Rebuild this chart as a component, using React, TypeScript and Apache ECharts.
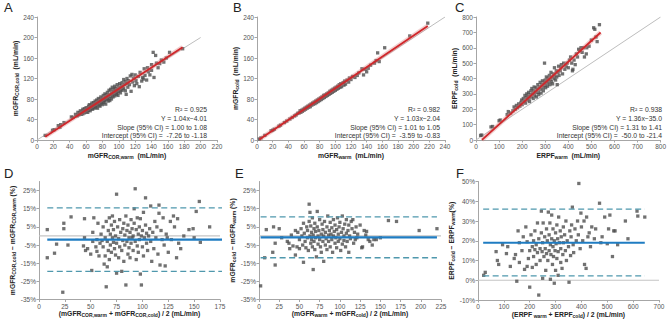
import { useEffect, useRef } from 'react';
import * as echarts from 'echarts';

type Pt = [number, number];

// ---------- A: mGFR(COR) warm vs cold ----------
const corWarmCold: Pt[] = [
  [10, 9], [19, 19], [21, 20], [26, 28], [28, 25], [29, 30], [33, 34], [42, 45], [44, 44], [47, 50], [49, 47],
  [50, 54], [51, 49], [52, 53], [53, 57], [54, 50], [55, 55], [56, 60], [56, 51], [57, 57], [58, 53],
  [58, 61], [59, 58], [60, 55], [60, 63], [61, 59], [62, 54], [62, 62], [63, 66], [63, 58], [64, 61],
  [64, 69], [65, 57], [65, 64], [66, 67], [66, 61], [67, 72], [67, 63], [68, 60], [68, 68], [69, 65],
  [69, 73], [70, 62], [70, 70], [71, 76], [71, 67], [72, 64], [72, 72], [73, 78], [73, 68], [74, 71],
  [74, 62], [75, 75], [75, 81], [76, 68], [76, 73], [77, 79], [77, 66], [78, 75], [78, 84], [79, 72],
  [79, 78], [80, 69], [80, 81], [81, 76], [81, 87], [82, 73], [82, 80], [83, 90], [83, 77], [84, 70],
  [84, 83], [85, 88], [85, 79], [86, 93], [86, 82], [87, 76], [87, 86], [88, 97], [88, 81], [89, 89],
  [89, 77], [90, 85], [90, 99], [91, 92], [91, 80], [92, 88], [92, 103], [93, 95], [93, 84], [94, 91],
  [94, 99], [95, 86], [95, 105], [96, 94], [96, 101], [97, 89], [97, 96], [98, 108], [98, 92], [99, 99],
  [99, 87], [100, 103], [100, 95], [101, 110], [102, 98], [102, 92], [103, 106], [104, 112], [104, 97], [105, 103],
  [106, 118], [106, 100], [107, 108], [108, 96], [108, 114], [109, 89], [110, 110], [110, 120], [111, 103], [112, 116],
  [113, 108], [114, 125], [115, 95], [116, 128], [117, 113], [118, 121], [119, 106], [120, 127], [121, 116], [122, 110],
  [124, 124], [125, 104], [126, 132], [128, 115], [129, 122], [130, 119], [131, 139], [132, 126], [134, 117], [135, 141],
  [136, 133], [138, 127], [140, 147], [140, 136], [142, 171], [143, 122], [145, 165], [146, 150], [148, 141], [150, 149],
  [152, 156], [155, 152], [158, 160], [162, 171], [178, 178],
];

// ---------- B: mGFR warm vs cold ----------
const mgfrWarmCold: Pt[] = [
  [3, 2], [5, 4], [10, 9], [18, 18], [20, 19], [22, 21], [28, 27], [30, 29], [35, 34], [38, 37],
  [42, 41], [45, 44], [48, 47], [50, 49], [52, 52], [54, 53], [55, 57], [56, 54], [57, 58], [58, 56],
  [59, 60], [60, 58], [61, 62], [62, 60], [63, 64], [64, 62], [65, 66], [66, 64], [67, 68], [68, 65],
  [69, 70], [70, 68], [71, 72], [72, 70], [73, 74], [74, 71], [75, 76], [76, 73], [77, 78], [78, 75],
  [79, 80], [80, 77], [81, 82], [82, 79], [83, 84], [84, 81], [85, 87], [86, 83], [87, 88], [88, 85],
  [89, 90], [90, 87], [91, 92], [92, 89], [93, 95], [94, 91], [95, 97], [96, 93], [97, 99], [98, 95],
  [99, 101], [100, 97], [101, 103], [102, 99], [103, 105], [104, 101], [105, 108], [106, 103], [107, 110], [108, 104],
  [110, 112], [111, 107], [112, 115], [113, 109], [115, 117], [117, 113], [118, 121], [120, 118], [122, 124], [125, 122],
  [128, 126], [130, 131], [134, 139], [136, 127], [138, 138], [140, 133], [142, 140], [145, 146], [150, 150], [152, 155],
  [154, 170], [156, 153], [163, 180], [195, 203], [218, 228],
];

// ---------- C: ERPF warm vs cold ----------
const erpfWarmCold: Pt[] = [
  [20, 30], [25, 32], [65, 85], [72, 88], [100, 125], [105, 130], [135, 165], [140, 185], [150, 175], [160, 190],
  [165, 215], [170, 200], [175, 225], [180, 210], [185, 235], [190, 220], [195, 245], [198, 260], [200, 230], [205, 270],
  [210, 250], [212, 290], [215, 240], [218, 275], [220, 300], [222, 260], [225, 285], [228, 310], [230, 270], [232, 250],
  [235, 295], [238, 320], [240, 280], [242, 335], [245, 300], [248, 270], [250, 320], [252, 345], [255, 290], [258, 310],
  [260, 340], [262, 280], [265, 330], [268, 360], [270, 310], [272, 295], [275, 345], [278, 375], [280, 330], [282, 305],
  [285, 360], [288, 385], [290, 340], [292, 320], [295, 375], [297, 500], [298, 355], [300, 390], [302, 340], [305, 410],
  [308, 370], [310, 350], [312, 400], [315, 380], [318, 420], [320, 360], [322, 395], [325, 440], [328, 380], [330, 410],
  [332, 365], [335, 430], [338, 400], [340, 470], [342, 420], [345, 390], [348, 450], [350, 410], [352, 360], [355, 440],
  [358, 480], [360, 420], [365, 450], [368, 470], [370, 490], [375, 430], [380, 500], [385, 460], [390, 480], [395, 500],
  [400, 470], [405, 520], [410, 540], [415, 500], [418, 450], [420, 460], [425, 520], [430, 490], [435, 560], [440, 540],
  [445, 590], [450, 580], [455, 600], [460, 570], [465, 600], [470, 540], [478, 560], [480, 600], [490, 610], [500, 650],
  [510, 730], [515, 720], [520, 670], [525, 640], [535, 750],
];

// ---------- D: mGFR(COR) mean vs % difference ----------
const corDiff: Pt[] = [
  [8, 3.5], [8, -12], [15, -9.5], [17, -4.5], [24, 4], [24, 7], [28, -5], [31, 10.5], [23, -31], [44, 9.5],
  [43, -5.5], [44, -1], [45, -8], [47, -7], [50, -10], [51, -19], [52, 2], [52, -3], [53, 10], [55, -6],
  [56, -8.5], [56, -2], [57, 7], [58, -11], [59, -4], [60, 1], [61, -2.5], [62, -6], [62, 5], [63, -15.5],
  [64, -1], [64, -11], [65, 8], [65, -28], [66, -17], [66, -3], [67, 3], [67, -8], [68, 10], [68, -13],
  [69, 1], [69, -5], [70, 6], [70, -9], [71, -1], [71, 11], [72, -3.5], [72, 3.5], [73, -7], [73, 8],
  [74, -10.5], [74, 0], [75, 23], [75, -20.5], [75, -4], [76, 5], [77, -1.5], [77, -12], [78, 9], [78, -6],
  [79, 2], [80, -8], [80, -19.5], [81, 4], [81, -2.5], [82, -14], [82, 7], [83, -5], [83, 0.5], [84, -27],
  [84, 11], [85, -3], [85, 3], [86, -10], [86, 6], [87, -1], [87, -6.5], [88, 2], [88, -12], [89, 9],
  [89, -4], [90, -1], [90, 4], [91, 0], [91, -8], [92, 15], [92, 7], [93, 26], [93, -3], [94, -13],
  [94, 3.5], [95, -5.5], [95, 10], [96, 1], [96, -9], [97, -2], [97, 5], [98, -21], [98, 9.5], [99, -27],
  [99, 0], [100, -6], [100, 3], [101, 13], [101, -11], [102, -1], [103, 21], [103, 6], [104, -4], [104, 1.5],
  [105, -8], [106, 0], [107, 4], [108, 16.5], [108, -3], [109, -14], [110, 2], [111, -7], [112, 8], [113, -1],
  [114, 5], [115, -10], [116, 12.5], [116, 17], [117, -16], [118, 3], [119, -2], [120, 10], [121, -5], [122, -16.5],
  [123, 1], [124, -1], [125, -9], [127, 8], [128, -2], [130, 11], [131, 5], [133, -12], [134, 9.5], [135, -4],
  [137, -7], [140, 0], [145, 3.5], [149, 4], [150, -1], [152, 13.5], [155, 19], [156, -3.5], [165, 5], [177, 0],
];

// ---------- E: mGFR mean vs % difference ----------
const mgfrDiff: Pt[] = [
  [2, -27.5], [7, -12], [9, 3.5], [17, -9], [18, 5], [20, -16], [20, -4], [25, 4], [28, -1], [35, -3],
  [37, -4], [38, -7], [40, 0.5], [42, -5.5], [45, 3], [45, -10.5], [47, -6], [48, 2], [50, -2], [50, -7],
  [52, 4], [53, 0], [54, -5], [55, -14.5], [55, 7], [56, 1.5], [57, -3], [58, -6.5], [59, 5], [60, -1],
  [60, 3], [61, -8], [62, 17.5], [62, 8], [63, 13], [63, 0], [64, -4], [64, 5.5], [65, -2], [65, 2],
  [66, 10], [66, -6], [67, -18.5], [67, 0.5], [68, 4], [68, -3], [69, 7], [69, -7.5], [70, -1], [70, 2.5],
  [71, -11.5], [72, 13.5], [72, 5], [73, -4.5], [73, 0], [74, 3], [75, -2], [75, 9], [76, -6], [77, 1],
  [77, -9], [78, 6.5], [79, -3], [79, 3.5], [80, -14], [80, 0], [81, 8], [82, -5], [82, 2], [83, -1.5],
  [84, 5], [84, -7.5], [85, 11], [86, 0.5], [86, -3], [87, 3], [88, -6], [88, 7.5], [89, 1], [90, -2],
  [90, 4.5], [91, -9], [92, 0], [92, 9], [93, 2.5], [94, -4], [94, 6], [95, -1], [96, 3.5], [96, -6.5],
  [97, 10], [98, 1], [98, -3], [99, 5], [100, -1.5], [100, 7.5], [101, -8], [102, 2], [103, -4.5], [103, 11],
  [104, 4], [105, 0], [105, -2.5], [106, 6.5], [107, -6], [108, 1.5], [108, 9], [109, -3], [110, 3], [111, -9],
  [111, 6], [112, 0], [113, -1.5], [114, 8], [115, 4], [116, 9], [117, -4], [118, 2], [119, -2], [120, 5],
  [121, -1], [122, 1], [125, 6], [127, -6.5], [128, -6], [130, 3], [132, 0.5], [133, 2.5], [135, -2], [137, -3],
  [140, -5], [142, -2], [145, -2], [150, -1], [160, 8.5], [170, 8], [198, 3], [220, 4],
];

// ---------- F: ERPF mean vs % difference ----------
const erpfDiff: Pt[] = [
  [22, 2.5], [28, 4], [70, 14.5], [75, 10], [80, 8], [95, 18], [110, 13.5], [115, 17], [125, 7], [140, 11],
  [145, 13], [150, -0.5], [155, 25], [160, 9], [160, 19], [170, 15], [175, 22], [180, 5.5], [185, 27], [190, 19.5],
  [190, 7], [195, 11], [200, -3.5], [200, 15], [205, 23], [210, 17], [210, 6.5], [215, 20], [215, 12], [220, 15.5],
  [220, 25], [225, 8], [225, 18], [230, 14], [230, 29], [235, -7.5], [235, 21], [240, 16], [240, 10], [245, 35],
  [245, 24], [248, 14.5], [250, 19], [250, 1], [252, 29], [255, 12], [258, 22], [260, 16], [262, 5], [265, 26],
  [265, 13.5], [268, 20], [270, 10], [272, 34.5], [275, 15], [275, 23], [278, 29], [280, 0.5], [280, 18], [282, 13],
  [285, 21], [285, 33], [288, 8], [290, 17], [290, 26], [292, 12], [295, 20], [295, -1.5], [298, 15], [300, 24],
  [300, 5], [302, 18.5], [305, 28], [305, 11], [308, 21], [310, 14.5], [310, 2.5], [312, 32], [315, 19], [318, 25],
  [320, 9], [320, 16], [322, 22], [325, 6], [328, 13], [330, 27], [330, 19], [335, 23], [338, 15], [340, 30],
  [342, 10], [345, 20], [350, 17], [352, -1], [355, 25], [358, 12.5], [360, 22], [362, 28], [365, 37], [368, 18],
  [370, 14], [375, 26], [380, 20], [385, 30], [388, 23], [390, 49], [395, 16], [398, 34], [400, 27], [405, 20],
  [410, 30], [412, 8], [418, 6], [420, 32], [425, 22], [430, 24], [435, 17], [440, 27], [450, 21], [455, 26],
  [470, 39], [475, 19], [480, 22], [490, 32], [500, 18.5], [505, 26], [510, 33], [520, 12], [525, 25], [530, 25],
  [540, 18], [570, 30], [580, 21], [615, 35], [618, 32.5], [645, 32],
];

// Regression fits (slope, intercept) with the printed statistics
const fitA = { slope: 1.04, intercept: -4.01, r2: '0.925', yText: '1.04x\u22124.01', slopeCI: '1.00 to 1.08', intCI: '-7.26 to -1.18', from: 10, to: 178 };
const fitB = { slope: 1.03, intercept: -2.04, r2: '0.982', yText: '1.03x\u22122.04', slopeCI: '1.01 to 1.05', intCI: '-3.59 to -0.83', from: 3, to: 218 };
const fitC = { slope: 1.36, intercept: -35.0, r2: '0.938', yText: '1.36x\u221235.0', slopeCI: '1.31 to 1.41', intCI: '-50.0 to -21.4', from: 26, to: 540 };

// Bland-Altman: mean bias and limits of agreement (%), drawn across the data span
const baD = { mean: -2.0, upper: 15.5, lower: -19.5, from: 8, to: 177 };
const baE = { mean: -0.8, upper: 10.5, lower: -12.0, from: 2, to: 220 };
const baF = { mean: 19.0, upper: 36.0, lower: 2.2, from: 20, to: 645 };

const FONT = '"Liberation Sans", Arial, Helvetica, sans-serif';
const GRID_LINE = '#a6a6a6';

const nameRich = {
  b: { fontSize: 6.8, fontWeight: 'bold', color: '#222', fontFamily: FONT },
  s: { fontSize: 5, fontWeight: 'bold', color: '#222', fontFamily: FONT, padding: [3, 0, 0, 0] },
};

function valueAxis(gridIndex: number, min: number, max: number, interval: number, name: string, nameGap: number, vertical: boolean, pct = false, hideMax = false) {
  return {
    type: 'value',
    gridIndex,
    min,
    max,
    interval,
    name,
    nameLocation: 'middle',
    nameGap,
    nameRotate: vertical ? 90 : 0,
    nameTextStyle: { rich: nameRich },
    axisLine: { show: true, onZero: false, lineStyle: { color: GRID_LINE, width: 1 } },
    axisTick: { show: true, length: 2.5, lineStyle: { color: GRID_LINE } },
    axisLabel: {
      fontSize: 6.5,
      color: '#555',
      fontFamily: FONT,
      margin: 3,
      showMaxLabel: hideMax ? false : true,
      formatter: pct ? '{value}%' : '{value}',
    },
    splitLine: { show: false },
  };
}

const scatterStyle = { color: '#4d4d4d', opacity: 0.8 };

function scatter(idx: number, data: Pt[]) {
  return {
    type: 'scatter', xAxisIndex: idx, yAxisIndex: idx, data,
    symbol: 'rect', symbolSize: 3.3, itemStyle: scatterStyle, silent: true, z: 3,
  };
}

function seg(idx: number, data: Pt[], color: string, width: number, z: number, dash?: number[]) {
  return {
    type: 'line', xAxisIndex: idx, yAxisIndex: idx, data,
    symbol: 'none', silent: true, z,
    lineStyle: { color, width, type: dash ? dash : 'solid' },
  };
}

function fitLines(idx: number, fit: typeof fitA): any[] {
  const pts: Pt[] = [
    [fit.from, fit.slope * fit.from + fit.intercept],
    [fit.to, fit.slope * fit.to + fit.intercept],
  ];
  return [
    seg(idx, pts, 'rgba(214, 120, 120, 0.35)', 4.5, 4),
    seg(idx, pts, '#d0262a', 1.8, 5),
  ];
}

function baLines(idx: number, ba: typeof baD, xmax: number): any[] {
  return [
    seg(idx, [[0, 0], [xmax, 0]], '#c4c4c4', 1.2, 2),
    seg(idx, [[ba.from, ba.mean], [ba.to, ba.mean]], '#1f7cc2', 2.2, 5),
    seg(idx, [[ba.from, ba.upper], [ba.to, ba.upper]], '#4f98ad', 1.3, 5, [6, 3.5]),
    seg(idx, [[ba.from, ba.lower], [ba.to, ba.lower]], '#4f98ad', 1.3, 5, [6, 3.5]),
  ];
}

function statTexts(right: number, fit: typeof fitA): any[] {
  const lines = [
    `R\u00b2 = ${fit.r2}`,
    `Y = ${fit.yText}`,
    `Slope (95% CI) = ${fit.slopeCI}`,
    `Intercept (95% CI) =  ${fit.intCI}`,
  ];
  const ys = [109, 118, 127, 135.5];
  return lines.map((t, i) => ({
    type: 'text', x: right, y: ys[i], silent: true,
    style: { text: t, align: 'right', verticalAlign: 'middle', fontSize: 6.8, fontFamily: FONT, fill: '#333' },
  }));
}

function panelLetter(x: number, y: number, t: string) {
  return {
    type: 'text', x, y, silent: true,
    style: { text: t, align: 'left', verticalAlign: 'top', fontSize: 13, fontFamily: FONT, fill: '#222' },
  };
}

function buildOption() {
  const grids = [
    { left: 37, top: 17, width: 180, height: 123 },
    { left: 257, top: 17, width: 188, height: 123 },
    { left: 476, top: 17, width: 186, height: 123 },
    { left: 39, top: 181.5, width: 181, height: 118 },
    { left: 259, top: 181.5, width: 182, height: 118 },
    { left: 478, top: 181.5, width: 181, height: 118.5 },
  ];

  const xAxis = [
    valueAxis(0, 0, 220, 20, '{b|mGFR}{s|COR,warm}{b|  (mL/min)}', 11, false),
    valueAxis(1, 0, 240, 20, '{b|mGFR}{s|warm}{b|  (mL/min)}', 11, false),
    valueAxis(2, 0, 800, 100, '{b|ERPF}{s|warm}{b|  (mL/min)}', 11, false),
    valueAxis(3, 0, 175, 25, '{b|(mGFR}{s|COR,warm}{b| + mGFR}{s|COR,cold}{b|) / 2 (mL/min)}', 10, false),
    valueAxis(4, 0, 225, 25, '{b|(mGFR}{s|warm}{b| + mGFR}{s|cold}{b|) / 2 (mL/min)}', 10, false),
    valueAxis(5, 0, 700, 100, '{b|(ERPF}{s| warm}{b| + ERPF}{s|cold}{b|) / 2 (mL/min)}', 10, false),
  ];
  const yAxis = [
    valueAxis(0, 0, 240, 40, '{b|mGFR}{s|COR,cold}{b|  (mL/min)}', 17, true),
    valueAxis(1, 0, 240, 40, '{b|mGFR}{s|cold}{b|  (mL/min)}', 17, true),
    valueAxis(2, 0, 800, 100, '{b|ERPF}{s|cold}{b|  (mL/min)}', 17, true),
    valueAxis(3, -35, 30, 10, '{b|mGFR}{s|COR,cold}{b| \u2212 mGFR}{s|COR,warm}{b| (%)}', 19, true, true, true),
    valueAxis(4, -35, 30, 10, '{b|mGFR}{s|cold}{b| \u2212 mGFR}{s|warm}{b| (%)}', 19, true, true, true),
    valueAxis(5, -10, 50, 10, '{b|ERPF}{s|cold}{b| \u2212 ERPF}{s|warm}{b|(%)}', 19, true, true),
  ];

  const series: any[] = [
    seg(0, [[0, 0], [200, 200]], '#bdbdbd', 1, 2),
    scatter(0, corWarmCold),
    ...fitLines(0, fitA),
    seg(1, [[0, 0], [240, 240]], '#bdbdbd', 1, 2),
    scatter(1, mgfrWarmCold),
    ...fitLines(1, fitB),
    seg(2, [[0, 0], [800, 800]], '#bdbdbd', 1, 2),
    scatter(2, erpfWarmCold),
    ...fitLines(2, fitC),
    scatter(3, corDiff),
    ...baLines(3, baD, 175),
    scatter(4, mgfrDiff),
    ...baLines(4, baE, 225),
    scatter(5, erpfDiff),
    ...baLines(5, baF, 700),
  ];

  const graphic = [
    panelLetter(4, 1, 'A'),
    panelLetter(233, 1, 'B'),
    panelLetter(455, 1, 'C'),
    panelLetter(4, 167, 'D'),
    panelLetter(235, 167, 'E'),
    panelLetter(456, 167, 'F'),
    ...statTexts(207, fitA),
    ...statTexts(440, fitB),
    ...statTexts(662, fitC),
  ];

  return {
    animation: false,
    backgroundColor: '#ffffff',
    grid: grids,
    xAxis,
    yAxis,
    series,
    graphic,
  };
}

export default function App() {
  const ref = useRef<HTMLDivElement>(null);
  useEffect(() => {
    if (!ref.current) return;
    const chart = echarts.init(ref.current, null, { renderer: 'svg' });
    chart.setOption(buildOption() as any);
    return () => chart.dispose();
  }, []);
  return (
    <div
      ref={ref}
      style={{ position: 'fixed', left: 0, top: 0, width: 669, height: 324, background: '#fff' }}
    />
  );
}
